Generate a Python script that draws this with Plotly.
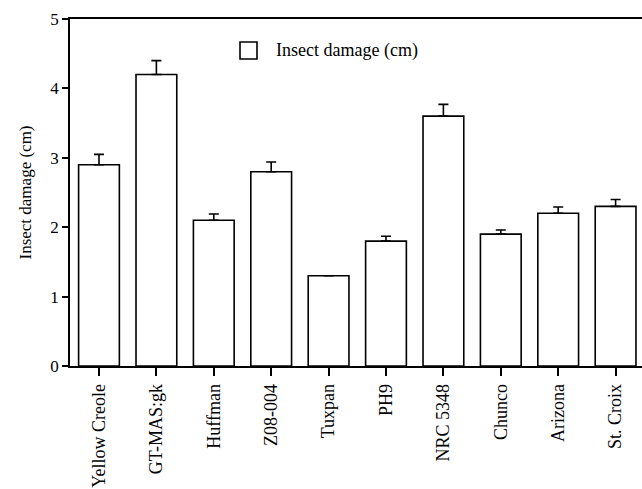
import plotly.graph_objects as go

categories = ["Yellow Creole", "GT-MAS:gk", "Huffman", "Z08-004", "Tuxpan",
              "PH9", "NRC 5348", "Chunco", "Arizona", "St. Croix"]
damage = [2.9, 4.2, 2.1, 2.8, 1.3, 1.8, 3.6, 1.9, 2.2, 2.3]
errors = [0.15, 0.2, 0.09, 0.14, 0.0, 0.07, 0.17, 0.06, 0.09, 0.1]
zeros = [0] * len(errors)
y_ticks = [0, 1, 2, 3, 4, 5]
legend_label = "Insect damage (cm)"

FONT = "Liberation Serif"

fig = go.Figure()
fig.add_trace(go.Bar(
    x=categories, y=damage, width=0.71,
    marker=dict(color="white", line=dict(color="black", width=1.6)),
    error_y=dict(type="data", array=errors, arrayminus=zeros, symmetric=False,
                 color="black", thickness=1.6, width=5),
    name=legend_label, showlegend=False,
))

W, H = 642, 489
L, R, T, B = 70, 0, 19, 123
pw, ph = W - L - R, H - T - B

def px(x):
    return (x - L) / pw

def py(y):
    return (H - B - y) / ph

fig.add_shape(type="rect", xref="paper", yref="paper",
              x0=px(240), x1=px(257), y0=py(59), y1=py(42),
              line=dict(color="black", width=1.6), fillcolor="white")
fig.add_annotation(xref="paper", yref="paper", x=px(274), y=py(50),
                   text=legend_label, showarrow=False, xanchor="left", yanchor="middle",
                   font=dict(family=FONT, size=18, color="black"))

fig.update_layout(
    width=W, height=H,
    margin=dict(l=L, r=R, t=T, b=B),
    plot_bgcolor="white", paper_bgcolor="white",
    font=dict(family=FONT, size=17, color="black"),
    bargap=0.3,
    xaxis=dict(
        range=[-0.505, 9.46], tickangle=-90, ticks="outside", ticklen=8,
        tickwidth=1.6, tickcolor="black", showline=True, linecolor="black",
        linewidth=1.6, mirror=True, showgrid=False, zeroline=False,
        ticklabelstandoff=1, automargin=False,
        tickfont=dict(family=FONT, size=18, color="black"),
    ),
    yaxis=dict(
        range=[0, 5], tickvals=y_ticks, ticks="outside", ticklen=6,
        tickwidth=1.6, tickcolor="black", showline=True, linecolor="black",
        linewidth=1.6, showgrid=False, zeroline=False, automargin=False,
        tickfont=dict(family=FONT, size=17, color="black"),
        title=dict(text="Insect damage (cm)", standoff=14,
                   font=dict(family=FONT, size=17, color="black")),
    ),
)

fig.write_html("out.html")
